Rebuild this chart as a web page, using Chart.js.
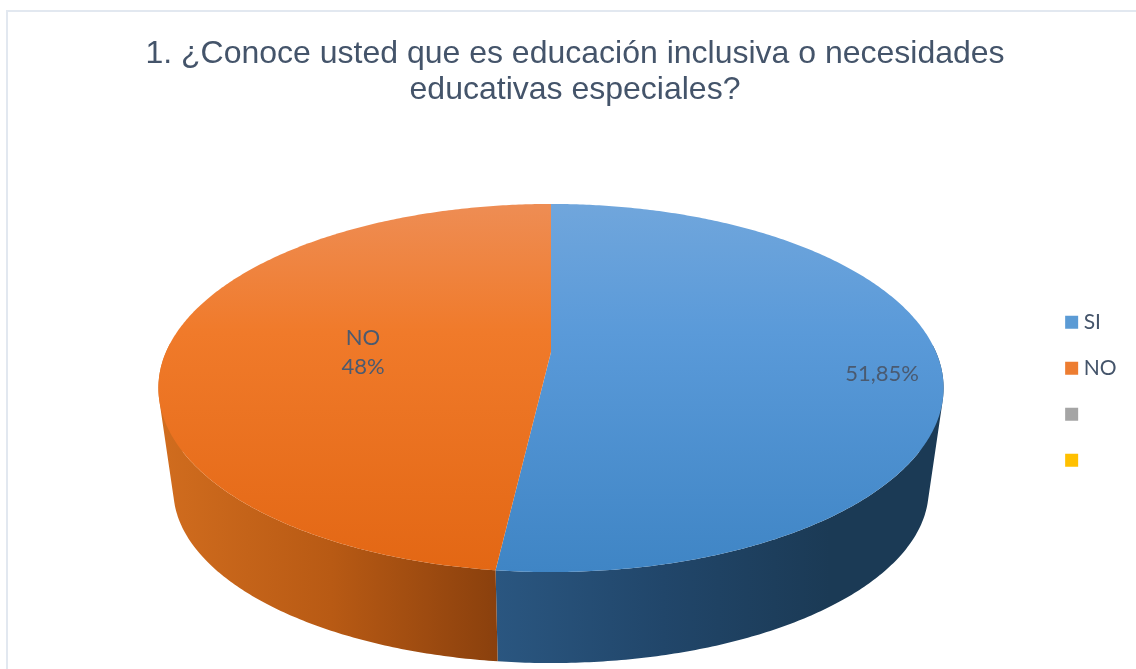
<!DOCTYPE html>
<html>
<head>
<meta charset="utf-8">
<script src="https://cdn.jsdelivr.net/npm/chart.js@4"></script>
<style>
  html, body { margin: 0; background: #fff; overflow: hidden; }
  #frame { position: absolute; left: 6px; top: 10px; width: 1300px; height: 800px; border: 2px solid #e2e8f0; box-sizing: border-box; }
  #pie { position: absolute; left: 0; top: 0; }
</style>
</head>
<body>
<div id="frame"></div>
<canvas id="pie" width="1136" height="669"></canvas>
<script>
var categories = ['SI', 'NO', '', ''];
var values = [51.85, 48.15, 0, 0];
var legendColors = ['#5b9bd5', '#ed7d31', '#a5a5a5', '#ffc000'];
var sliceLabels = [['51,85%'], ['NO', '48%'], [], []];
var titleLines = ['1. ¿Conoce usted que es educación inclusiva o necesidades', 'educativas especiales?'];

// tilted disc: perspective projection of the unit circle onto the page
var CX = 551, APEX_Y = 352, RX = 385, RY = 177, K = -0.1957;
var BOTTOM_SCALE_X = 0.962, BOTTOM_SCALE_Y = 173 / 184, TOP_MID_Y = 388, BOTTOM_MID_Y = 490;

function topRim(angle) {
  var X = Math.cos(angle), Y = Math.sin(angle), w = 1 + K * Y;
  return { x: CX + RX * X / w, y: APEX_Y + RY * Y / w };
}
function bottomRim(angle) {
  var p = topRim(angle);
  return { x: CX + (p.x - CX) * BOTTOM_SCALE_X, y: BOTTOM_MID_Y + (p.y - TOP_MID_Y) * BOTTOM_SCALE_Y };
}
function sampleAngles(a, b) {
  var out = [], n = Math.max(2, Math.ceil((b - a) / 0.01));
  for (var i = 0; i <= n; i++) out.push(a + (b - a) * i / n);
  return out;
}
function gradient(ctx, x0, y0, x1, y1, stops) {
  var g = ctx.createLinearGradient(x0, y0, x1, y1);
  stops.forEach(function (s) { g.addColorStop(s[0], s[1]); });
  return g;
}

var faceStops = [
  [[0, '#70a6dc'], [0.35, '#5a9ad9'], [1, '#3f85c5']],
  [[0, '#ee8d54'], [0.35, '#f07a2a'], [1, '#e36714']]
];
var wallStops = [
  { x0: 497, x1: 830, stops: [[0, '#2a5680'], [0.5, '#21466a'], [1, '#1b3a55']] },
  { x0: 165, x1: 497, stops: [[0, '#d06c1e'], [0.5, '#b85a14'], [1, '#8a400d']] }
];

// slices are drawn on the tilted disc instead of as flat circles
Chart.elements.ArcElement.prototype.draw = function (ctx) {
  var i = this.$context.dataIndex;
  if (this.endAngle - this.startAngle < 1e-6) return;
  ctx.save();
  ctx.beginPath();
  ctx.moveTo(CX, APEX_Y);
  sampleAngles(this.startAngle, this.endAngle).forEach(function (a) {
    var p = topRim(a);
    ctx.lineTo(p.x, p.y);
  });
  ctx.closePath();
  ctx.fillStyle = gradient(ctx, 0, 204, 0, 572, faceStops[i]);
  ctx.fill();
  ctx.restore();
};

var wallsPlugin = {
  id: 'walls',
  beforeDatasetsDraw: function (chart) {
    var ctx = chart.ctx;
    chart.getDatasetMeta(0).data.forEach(function (arc, i) {
      if (arc.endAngle - arc.startAngle < 1e-6) return;
      var angles = sampleAngles(arc.startAngle, arc.endAngle);
      var w = wallStops[i];
      ctx.beginPath();
      // all quads in one path with the same winding, so they fill as one shape
      for (var n = 0; n < angles.length - 1; n++) {
        if (Math.sin(angles[n]) < -0.05) continue; // back of the disc is hidden
        var q = [topRim(angles[n]), topRim(angles[n + 1]), bottomRim(angles[n + 1]), bottomRim(angles[n])];
        var area = 0;
        for (var k = 0; k < 4; k++) {
          var p1 = q[k], p2 = q[(k + 1) % 4];
          area += p1.x * p2.y - p2.x * p1.y;
        }
        if (area < 0) q.reverse();
        ctx.moveTo(q[0].x, q[0].y);
        ctx.lineTo(q[1].x, q[1].y);
        ctx.lineTo(q[2].x, q[2].y);
        ctx.lineTo(q[3].x, q[3].y);
        ctx.closePath();
      }
      ctx.fillStyle = gradient(ctx, w.x0, 0, w.x1, 0, w.stops);
      ctx.fill('nonzero');
    });
  },
  afterDatasetsDraw: function (chart) {
    var ctx = chart.ctx;
    var spots = [[882, 374], [363, 352]];
    ctx.save();
    ctx.font = '22px Lato';
    ctx.fillStyle = '#4a5a70';
    ctx.textAlign = 'center';
    ctx.textBaseline = 'middle';
    spots.forEach(function (s, i) {
      var lines = sliceLabels[i];
      lines.forEach(function (t, n) {
        ctx.fillText(t, s[0], s[1] + (n - (lines.length - 1) / 2) * 29);
      });
    });
    ctx.restore();
  }
};

new Chart(document.getElementById('pie'), {
  type: 'pie',
  data: {
    labels: categories,
    datasets: [{ data: values, backgroundColor: legendColors, borderWidth: 0 }]
  },
  options: {
    responsive: false,
    animation: false,
    layout: { padding: { left: 23.5, right: 9.5, top: 36, bottom: 0 } },
    plugins: {
      title: {
        display: true,
        text: titleLines,
        color: '#44546a',
        font: { family: 'Liberation Sans', size: 32, weight: 'normal', lineHeight: 1.13 },
        padding: { top: 0, bottom: 5 }
      },
      legend: {
        position: 'right',
        fullSize: false,
        labels: {
          usePointStyle: true,
          pointStyle: 'rect',
          boxWidth: 3,
          boxHeight: 13,
          padding: 25,
          color: '#44546a',
          font: { family: 'Lato', size: 21, lineHeight: 1.2 }
        }
      },
      tooltip: { enabled: false }
    }
  },
  plugins: [wallsPlugin]
});
</script>
</body>
</html>
